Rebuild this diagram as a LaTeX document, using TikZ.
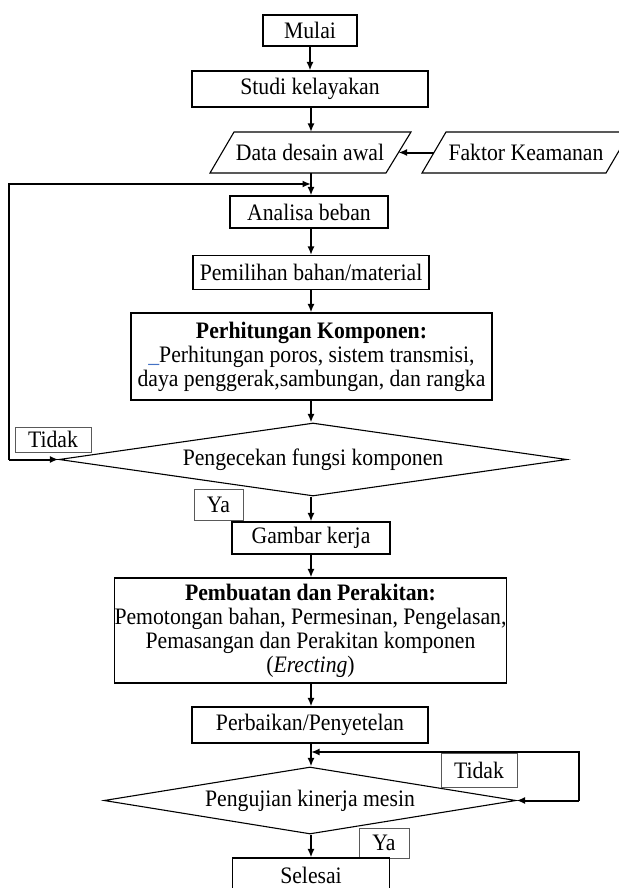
\documentclass[tikz,border=0pt]{standalone}
\usepackage{fontspec}
\setmainfont{Liberation Serif}[FakeStretch=0.92]
\usetikzlibrary{arrows.meta,shapes.geometric}
\begin{document}
\begin{tikzpicture}[x=1pt,y=-1pt,
  txt/.style={font=\fontsize{23.6}{24}\selectfont, inner sep=0pt, align=center},
  box/.style={txt, draw=black, line width=1.1pt, rectangle},
  lbl/.style={txt, draw=black!65, line width=1pt, rectangle},
  dec/.style={txt, draw=black, line width=1.1pt, diamond, aspect=7},
  par/.style={draw=black, line width=1.1pt},
  arr/.style={line width=2pt, -{Latex[length=8.5pt,width=7pt]}}]
\useasboundingbox (0,0) rectangle (618,888);
% nodes
\node[box, minimum width=94, minimum height=31] (mulai) at (310,30.5) {Mulai};
\node[box, minimum width=236, minimum height=36] (studi) at (310,89) {Studi kelayakan};
\node[txt] (data) at (310,152.5) {Data desain awal};
\draw[par] (234,132) -- (411,132) -- (386,173) -- (210,173) -- cycle;
\coordinate (dataN) at (311,132);
\coordinate (dataS) at (311,173);
\coordinate (dataE) at (398.5,152.5);
\node[txt] (faktor) at (526,152.5) {Faktor Keamanan};
\draw[par] (446,132) -- (630,132) -- (606,173) -- (422,173) -- cycle;
\coordinate (faktorW) at (434,152.5);
\node[box, minimum width=158, minimum height=32] (analisa) at (309,212) {Analisa beban};
\node[box, minimum width=236, minimum height=34] (pemilihan) at (311,272.5) {Pemilihan bahan/material};
\node[box, minimum width=361, minimum height=87] (hitung) at (311.5,356.5)
  {\textbf{Perhitungan Komponen:}\\{\color[HTML]{4472C4}\_}Perhitungan poros, sistem transmisi,\\daya penggerak,sambungan, dan rangka};
\node[dec, minimum width=508, minimum height=73] (cek) at (313,459.5) {Pengecekan fungsi komponen};
\node[lbl, minimum width=76, minimum height=25] (tidak1) at (53,439.5) {Tidak};
\node[lbl, minimum width=49, minimum height=31] (ya1) at (218.5,504.5) {Ya};
\node[box, minimum width=158, minimum height=32] (gambar) at (311,538) {Gambar kerja};
\node[box, minimum width=387, minimum height=105] (buat) at (310.5,630.5)
  {\textbf{Pembuatan dan Perakitan:}\\Pemotongan bahan, Permesinan, Pengelasan,\\Pemasangan dan Perakitan komponen\\(\textit{Erecting})};
\node[box, minimum width=236, minimum height=36] (perbaikan) at (310,725) {Perbaikan/Penyetelan};
\node[dec, minimum width=412, minimum height=67] (uji) at (310,800.5) {Pengujian kinerja mesin};
\node[lbl, minimum width=76, minimum height=34] (tidak2) at (479,770) {Tidak};
\node[lbl, minimum width=50, minimum height=30] (ya2) at (384,843) {Ya};
\node[box, minimum width=157, minimum height=34] (selesai) at (311,875) {Selesai};
% coordinates for loops
\coordinate (j1) at (311,184);
\coordinate (l1) at (9,184);
\coordinate (l1b) at (9,459.5);
\coordinate (j2) at (311,752);
\coordinate (r2) at (579,752);
\coordinate (r1) at (579,800.5);
% connectors
\draw[arr] (mulai.south) -- (studi.north -| mulai.south);
\draw[arr] (studi.south -| dataN) -- (dataN);
\draw[arr] (faktorW) -- (dataE);
\draw[arr] (dataS) -- (analisa.north -| dataS);
\draw[arr] (analisa.south -| dataS) -- (pemilihan.north -| dataS);
\draw[arr] (pemilihan.south -| dataS) -- (hitung.north -| dataS);
\draw[arr] (hitung.south -| dataS) -- (cek.north -| dataS);
\draw[arr] (cek.south -| dataS) -- (gambar.north -| dataS);
\draw[arr] (gambar.south -| dataS) -- (buat.north -| dataS);
\draw[arr] (buat.south -| dataS) -- (perbaikan.north -| dataS);
\draw[arr] (perbaikan.south -| dataS) -- (uji.north -| dataS);
\draw[arr] (uji.south -| dataS) -- (selesai.north -| dataS);
\draw[arr] (l1b) -- (cek.west);
\draw[arr] (l1b) -- (l1) -- (j1);
\draw[arr] (r1) -- (uji.east);
\draw[arr] (r1) -- (r2) -- (j2);
\end{tikzpicture}
\end{document}
